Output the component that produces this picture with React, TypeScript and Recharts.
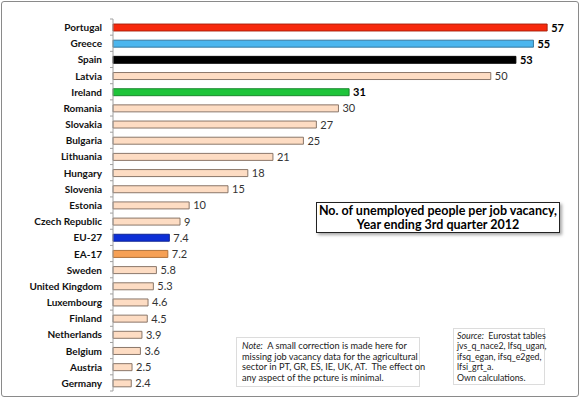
import { BarChart, Bar, XAxis, YAxis, Cell, LabelList } from "recharts";

const countries = [
  "Portugal", "Greece", "Spain", "Latvia", "Ireland", "Romania", "Slovakia",
  "Bulgaria", "Lithuania", "Hungary", "Slovenia", "Estonia", "Czech Republic",
  "EU-27", "EA-17", "Sweden", "United Kingdom", "Luxembourg", "Finland",
  "Netherlands", "Belgium", "Austria", "Germany",
];

const ratios = [
  57, 55.2, 52.9, 49.6, 31, 29.6, 26.7, 25, 21, 17.7, 15.1, 10, 8.8,
  7.4, 7.2, 5.7, 5.3, 4.6, 4.5, 3.8, 3.6, 2.5, 2.4,
];

// printed value labels
const valueLabels = [
  "57", "55", "53", "50", "31", "30", "27", "25", "21", "18", "15", "10", "9",
  "7.4", "7.2", "5.8", "5.3", "4.6", "4.5", "3.9", "3.6", "2.5", "2.4",
];

const highlighted = ["Portugal", "Greece", "Spain", "Ireland"];

const fills: Record<string, string> = {
  Portugal: "#f7290c",
  Greece: "#4cb6ee",
  Spain: "#000000",
  Ireland: "#1ec43a",
  "EU-27": "#0d2fd6",
  "EA-17": "#f6a055",
};
const strokes: Record<string, string> = {
  Portugal: "#a3200c",
  Greece: "#2e6f95",
  Spain: "#000000",
  Ireland: "#138026",
  "EU-27": "#0a1e8a",
  "EA-17": "#a86a32",
};
const DEFAULT_FILL = "#fddcc3";
const DEFAULT_STROKE = "#7e6a5c";

const W = 579;
const H = 397;
const TOP = 19;
const BOTTOM = 6;
const AXIS_X = 113;
const BAND = (H - TOP - BOTTOM) / countries.length;

const data = countries.map((name, i) => ({
  name,
  value: ratios[i],
  label: valueLabels[i],
}));

const FONT = "Lato, 'Open Sans', sans-serif";

// eslint-disable-next-line @typescript-eslint/no-explicit-any
const CountryTick = (props: any) => {
  const { x, y, payload, index } = props;
  return (
    <g>
      <text
        x={x}
        y={y}
        dy={4}
        textAnchor="end"
        fontFamily={FONT}
        fontWeight={700}
        fontSize={10}
        fill="#111"
      >
        {payload.value}
      </text>
      <line
        x1={AXIS_X - 3}
        x2={AXIS_X}
        y1={y - BAND / 2}
        y2={y - BAND / 2}
        stroke="#a0a0a0"
      />
      {index === countries.length - 1 && (
        <line
          x1={AXIS_X - 3}
          x2={AXIS_X}
          y1={y + BAND / 2}
          y2={y + BAND / 2}
          stroke="#a0a0a0"
        />
      )}
    </g>
  );
};

// eslint-disable-next-line @typescript-eslint/no-explicit-any
const ValueLabel = (props: any) => {
  const { x, y, width, height, index } = props;
  const name = countries[index];
  const bold = highlighted.includes(name);
  return (
    <text
      x={x + width + 4}
      y={y + height / 2 + 4}
      fontFamily={FONT}
      fontSize={11}
      fontWeight={bold ? 700 : 400}
      fill={bold ? "#000" : "#333"}
    >
      {valueLabels[index]}
    </text>
  );
};

export default function App() {
  return (
    <div
      style={{
        position: "absolute",
        left: 0,
        top: 0,
        width: W,
        height: H,
        background: "#fff",
        fontFamily: FONT,
      }}
    >
      <div
        style={{
          position: "absolute",
          left: 1,
          top: 1,
          width: W - 3,
          height: H - 3,
          border: "1px solid #8a8a8a",
          borderRadius: 3,
        }}
      />
      <BarChart
        width={W}
        height={H}
        data={data}
        layout="vertical"
        margin={{ top: TOP, right: 9, bottom: BOTTOM, left: 0 }}
        barSize={7}
      >
        <XAxis type="number" domain={[0, 60]} hide />
        <YAxis
          type="category"
          dataKey="name"
          width={AXIS_X}
          tickSize={3}
          tickMargin={8}
          tickLine={false}
          axisLine={{ stroke: "#a0a0a0" }}
          tick={<CountryTick />}
          interval={0}
        />
        <Bar dataKey="value" isAnimationActive={false} strokeWidth={0.9}>
          {data.map((d) => (
            <Cell
              key={d.name}
              fill={fills[d.name] ?? DEFAULT_FILL}
              stroke={strokes[d.name] ?? DEFAULT_STROKE}
            />
          ))}
          <LabelList dataKey="label" content={<ValueLabel />} />
        </Bar>
      </BarChart>

      <div
        style={{
          position: "absolute",
          left: 316,
          top: 202,
          width: 244,
          height: 31,
          boxSizing: "border-box",
          border: "1px solid #222",
          background: "#fff",
          boxShadow: "2px 2px 3px rgba(0,0,0,0.35)",
          textAlign: "center",
          fontWeight: 700,
          fontSize: 12.5,
          lineHeight: "14px",
          paddingTop: 1,
          color: "#000",
        }}
      >
        No. of unemployed people per job vacancy,
        <br />
        Year ending 3rd quarter 2012
      </div>

      <div
        style={{
          position: "absolute",
          left: 236,
          top: 337,
          width: 184,
          height: 50,
          boxSizing: "border-box",
          border: "1px solid #dcdcdc",
          background: "#fff",
          fontSize: 9.2,
          lineHeight: "10.5px",
          padding: "3px 2px 0 5px",
          color: "#222",
          whiteSpace: "nowrap",
        }}
      >
        <i>Note:</i>&nbsp; A small correction is made here for
        <br />
        missing job vacancy data for the agricultural
        <br />
        sector in PT, GR, ES, IE, UK, AT.&nbsp; The effect on
        <br />
        any aspect of the pcture is minimal.
      </div>

      <div
        style={{
          position: "absolute",
          left: 453,
          top: 328,
          width: 92,
          height: 57,
          boxSizing: "border-box",
          border: "1px solid #dcdcdc",
          background: "#fff",
          fontSize: 8.8,
          lineHeight: "10.4px",
          padding: "2px 2px 0 3px",
          color: "#222",
          whiteSpace: "nowrap",
        }}
      >
        <i>Source:</i>&nbsp; Eurostat tables
        <br />
        jvs_q_nace2, lfsq_ugan,
        <br />
        ifsq_egan, ifsq_e2ged,
        <br />
        lfsi_grt_a.
        <br />
        Own calculations.
      </div>
    </div>
  );
}
